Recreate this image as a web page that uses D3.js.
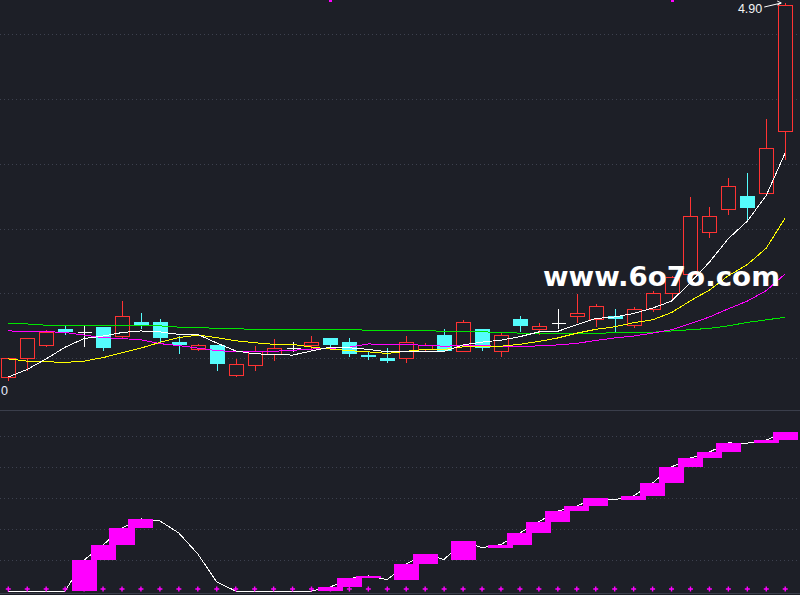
<!DOCTYPE html>
<html><head><meta charset="utf-8">
<script src="https://cdn.jsdelivr.net/npm/d3@7"></script>
<style>html,body{margin:0;padding:0;background:#1d1f27;overflow:hidden}</style>
</head><body><svg id="c" width="800" height="595"></svg>
<script>
// ---- data ----
const openP  = [3.721,3.781,3.822,3.873,3.863,3.879,3.851,3.895,3.895,3.832,3.809,3.823,3.729,3.761,3.793,3.812,3.822,3.845,3.832,3.791,3.782,3.781,3.809,3.854,3.802,3.873,3.802,3.905,3.871,3.893,3.913,3.904,3.914,3.886,3.935,3.986,4.045,4.177,4.250,4.292,4.301,4.497];
const highP  = [3.781,3.844,3.870,3.884,3.884,3.879,3.961,3.924,3.905,3.850,3.826,3.823,3.779,3.820,3.841,3.831,3.851,3.845,3.845,3.803,3.812,3.851,3.829,3.873,3.902,3.873,3.861,3.914,3.891,3.935,3.983,3.952,3.935,3.943,3.993,4.040,4.289,4.257,4.349,4.365,4.535,4.900];
const lowP   = [3.710,3.742,3.816,3.854,3.816,3.805,3.844,3.874,3.832,3.793,3.804,3.742,3.723,3.742,3.773,3.800,3.810,3.811,3.784,3.775,3.765,3.765,3.803,3.801,3.801,3.805,3.784,3.865,3.855,3.872,3.891,3.879,3.865,3.875,3.926,3.965,4.037,4.161,4.232,4.212,4.298,4.406];
const closeP = [3.781,3.844,3.863,3.865,3.863,3.814,3.914,3.885,3.846,3.824,3.823,3.764,3.763,3.804,3.812,3.812,3.832,3.824,3.793,3.784,3.773,3.831,3.822,3.804,3.894,3.814,3.853,3.884,3.882,3.893,3.923,3.946,3.906,3.935,3.986,4.036,4.228,4.228,4.324,4.253,4.443,4.894];
const ma5  = [3.722,3.746,3.779,3.816,3.843,3.851,3.862,3.867,3.864,3.856,3.856,3.829,3.804,3.795,3.793,3.791,3.804,3.816,3.814,3.809,3.801,3.801,3.801,3.803,3.823,3.832,3.838,3.849,3.864,3.866,3.887,3.906,3.911,3.922,3.939,3.961,4.020,4.084,4.158,4.213,4.294,4.428];
const ma10 = [3.779,3.772,3.770,3.768,3.772,3.783,3.798,3.813,3.831,3.846,3.854,3.846,3.836,3.830,3.825,3.825,3.816,3.810,3.805,3.801,3.796,3.803,3.809,3.809,3.817,3.817,3.819,3.825,3.834,3.845,3.860,3.872,3.880,3.893,3.902,3.925,3.962,3.996,4.041,4.076,4.128,4.223];
const ma20 = [3.867,3.866,3.865,3.862,3.854,3.846,3.843,3.839,3.827,3.821,3.813,3.805,3.802,3.802,3.803,3.806,3.810,3.812,3.816,3.826,3.825,3.824,3.822,3.819,3.821,3.821,3.818,3.818,3.820,3.823,3.828,3.837,3.845,3.851,3.860,3.871,3.890,3.911,3.937,3.961,3.994,4.047];
const ma60 = [3.891,3.889,3.885,3.885,3.885,3.883,3.883,3.883,3.883,3.879,3.878,3.875,3.874,3.872,3.872,3.872,3.872,3.872,3.872,3.869,3.869,3.869,3.868,3.866,3.866,3.864,3.863,3.860,3.860,3.860,3.860,3.860,3.861,3.861,3.863,3.867,3.871,3.875,3.883,3.894,3.902,3.910];
const indicator = [0,0,0,0,20.0,29.7,40.6,46.5,45.2,37.4,23.9,5.8,0,0,0,0,0,2.6,8.1,9.7,7.3,17.4,23.9,20.3,32.3,27.9,30.0,37.4,44.8,51.6,54.8,60.0,58.9,61.3,69.7,80.0,85.8,89.7,95.5,95.4,97.4,102.6];
const priceGrid = [4.802,4.598,4.394,4.188,3.986,3.782];
const indGrid = [20,40,60,80,100];
const topSignals = [17,35];
const highLabel = "4.90";
const lowLabel = "0";
const watermark = "www.6o7o.com";

// ---- drawing ----
const svg = d3.select("#c");
const n = openP.length;
const x = d3.scalePoint().domain(d3.range(n)).range([-1.175, 794.7]).padding(0.5);
const step = x.step();
const y = d3.scaleLinear().domain([4.9095, 3.6747]).range([0, 392]);
const yb = d3.scaleLinear().domain([0, 100]).range([591, 436]);

const RED = "#ff3333", CYAN = "#54fcfc", BG = "#1d1f27", GRID = "#3d414f";

svg.append("rect").attr("width",800).attr("height",595).attr("fill",BG);

// grids
svg.append("g").selectAll("line").data(priceGrid).join("line")
  .attr("x1",0).attr("x2",800).attr("y1",d=>Math.round(y(d))+0.5).attr("y2",d=>Math.round(y(d))+0.5)
  .attr("stroke",GRID).attr("stroke-dasharray","1,3");
svg.append("g").selectAll("line").data(indGrid).join("line")
  .attr("x1",0).attr("x2",800).attr("y1",d=>Math.round(yb(d))+0.5).attr("y2",d=>Math.round(yb(d))+0.5)
  .attr("stroke",GRID).attr("stroke-dasharray","1,3");
// panel separators
svg.append("line").attr("x1",0).attr("x2",800).attr("y1",410.5).attr("y2",410.5).attr("stroke","#3a3e4b");
svg.append("line").attr("x1",0).attr("x2",800).attr("y1",593.5).attr("y2",593.5).attr("stroke","#3a3e4b");

// candles
const bw = Math.round(step*0.76);
const cg = svg.append("g").attr("shape-rendering","crispEdges");
d3.range(n).forEach(i=>{
  const o=openP[i], c=closeP[i], h=highP[i], l=lowP[i];
  const cx = Math.round(x(i)) + 0.5;
  const col = c>o ? RED : (c<o ? CYAN : "#ffffff");
  const top = y(Math.max(o,c)), bot = y(Math.min(o,c));
  if (c>o) {
    cg.append("line").attr("x1",cx).attr("x2",cx).attr("y1",y(h)).attr("y2",top).attr("stroke",col);
    cg.append("line").attr("x1",cx).attr("x2",cx).attr("y1",bot).attr("y2",y(l)).attr("stroke",col);
    cg.append("rect").attr("x",cx-bw/2).attr("y",Math.round(top)+0.5).attr("width",bw)
      .attr("height",Math.max(1,Math.round(bot-top))).attr("fill",BG).attr("stroke",col);
  } else if (c<o) {
    cg.append("line").attr("x1",cx).attr("x2",cx).attr("y1",y(h)).attr("y2",y(l)).attr("stroke",col);
    cg.append("rect").attr("x",cx-bw/2-0.5).attr("y",Math.round(top)).attr("width",bw+1)
      .attr("height",Math.max(1,Math.round(bot-top))).attr("fill",col);
  } else {
    cg.append("line").attr("x1",cx).attr("x2",cx).attr("y1",y(h)).attr("y2",y(l)).attr("stroke",col);
    cg.append("line").attr("x1",cx-bw/2).attr("x2",cx+bw/2).attr("y1",Math.round(top)+0.5).attr("y2",Math.round(top)+0.5).attr("stroke",col);
  }
});

// moving averages
const line = d3.line().x((d,i)=>x(i)).y(d=>y(d));
[[ma60,"#00e600"],[ma20,"#ff00ff"],[ma10,"#ffff00"],[ma5,"#ffffff"]].forEach(([arr,col])=>{
  svg.append("path").datum(arr).attr("d",line).attr("fill","none").attr("stroke",col)
    .attr("stroke-width",1).attr("shape-rendering","crispEdges");
});

// top signal marks
svg.append("g").selectAll("rect").data(topSignals).join("rect")
  .attr("x",d=>Math.round(x(d))-1).attr("y",0).attr("width",3).attr("height",2).attr("fill","#ff00ff");

// high label
const lx = x(n-1), ly = y(highP[n-1]);
svg.append("text").attr("x",lx-23).attr("y",ly+10).attr("text-anchor","end")
  .attr("font-family","Liberation Sans, Arial, sans-serif").attr("font-size",12.5).attr("fill","#f4f4f4").text(highLabel);
svg.append("path").attr("d",`M${lx-21},${ly+4}L${lx-4},${ly}M${lx-8},${ly-2}L${lx-4},${ly}L${lx-8},${ly+2}`)
  .attr("fill","none").attr("stroke","#ffffff").attr("stroke-width",1);
// low label (cut at left edge)
svg.append("text").attr("x",1).attr("y",395)
  .attr("font-family","Liberation Sans, Arial, sans-serif").attr("font-size",12.5).attr("fill","#e8ecff").text(lowLabel);

// watermark
svg.append("text").attr("x",543).attr("y",286).attr("textLength",237).attr("lengthAdjust","spacingAndGlyphs")
  .attr("font-family","DejaVu Sans, sans-serif").attr("font-weight","bold").attr("font-size",26)
  .attr("fill","#ffffff").text(watermark);

// bottom indicator
const bl = d3.line().x((d,i)=>x(i)).y(d=>yb(d));
svg.append("path").datum(indicator).attr("d",bl).attr("fill","none").attr("stroke","#ffffff")
  .attr("stroke-width",1).attr("shape-rendering","crispEdges");
const cr = svg.append("g").attr("stroke","#ff00ff").attr("stroke-width",1.4);
d3.range(n).forEach(i=>{
  const cx = x(i), cy = yb(0)-2;
  cr.append("path").attr("d",`M${cx-2.5},${cy}H${cx+2.5}M${cx},${cy-2.5}V${cy+2.5}`);
});
const rises = d3.range(1,n).filter(i=>indicator[i]>indicator[i-1]);
const boxW = step*1.32;
svg.append("g").attr("shape-rendering","crispEdges").selectAll("rect").data(rises).join("rect")
  .attr("x",i=>x(i)-boxW/2).attr("width",boxW)
  .attr("y",i=>yb(indicator[i])).attr("height",i=>Math.max(1,yb(indicator[i-1])-yb(indicator[i])))
  .attr("fill","#ff00ff");
</script></body></html>
